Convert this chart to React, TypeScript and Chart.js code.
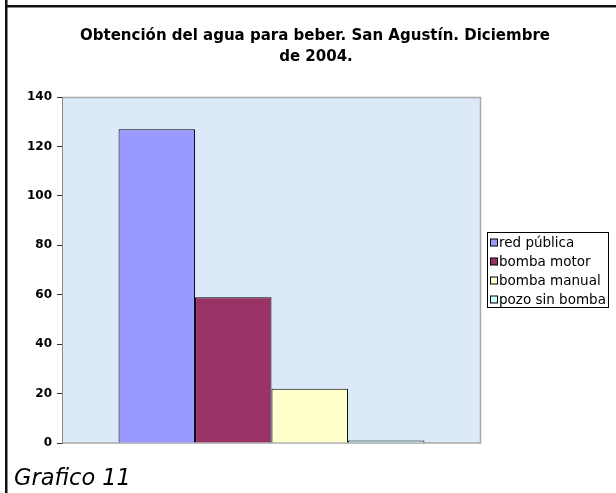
import React, { useEffect, useRef } from "react";
import { Chart, registerables } from "chart.js";

Chart.register(...registerables);

const categories = [""];
const seriesNames = ["red pública", "bomba motor", "bomba manual", "pozo sin bomba"];
const redPublica = [127];
const bombaMotor = [59];
const bombaManual = [22];
const pozoSinBomba = [1];
const seriesColors = ["#9999FF", "#993366", "#FFFFCC", "#CCFFFF"];
const yTicks = [0, 20, 40, 60, 80, 100, 120, 140];
const titleLines = ["Obtención del agua para beber. San Agustín. Diciembre", "de 2004."];
const captionText = "Grafico 11";

const decor = {
  id: "decor",
  beforeDraw(chart: any) {
    const { ctx, chartArea: a } = chart;
    ctx.save();
    ctx.fillStyle = "#ffffff";
    ctx.fillRect(0, 0, chart.width, chart.height);
    ctx.fillStyle = "#DCE9F8";
    ctx.fillRect(a.left, a.top, a.right - a.left, a.bottom - a.top);
    ctx.strokeStyle = "#A8A8A8";
    ctx.lineWidth = 1.5;
    ctx.beginPath();
    ctx.moveTo(a.left, a.top + 0.5);
    ctx.lineTo(a.right - 0.5, a.top + 0.5);
    ctx.lineTo(a.right - 0.5, a.bottom);
    ctx.lineTo(a.left, a.bottom);
    ctx.stroke();
    // outer frame lines
    ctx.fillStyle = "#111111";
    ctx.fillRect(5, 0, 2.5, chart.height);
    ctx.fillRect(5, 5, chart.width - 5, 2.5);
    ctx.restore();
  },
  afterDraw(chart: any) {
    const { ctx } = chart;
    ctx.save();
    // title
    ctx.fillStyle = "#000";
    ctx.font = "bold 15px 'DejaVu Sans'";
    ctx.textAlign = "center";
    ctx.textBaseline = "alphabetic";
    ctx.fillText(titleLines[0], 315, 40);
    ctx.fillText(titleLines[1], 316, 61);
    // legend
    const bx = 487.5, by = 232.5, bw = 121, bh = 75;
    ctx.fillStyle = "#fff";
    ctx.fillRect(bx, by, bw, bh);
    ctx.strokeStyle = "#000";
    ctx.lineWidth = 1;
    ctx.strokeRect(bx, by, bw, bh);
    ctx.font = "13.5px 'DejaVu Sans'";
    ctx.textAlign = "left";
    chart.data.datasets.forEach((ds: any, i: number) => {
      const base = 246.5 + 19 * i;
      ctx.fillStyle = ds.backgroundColor;
      ctx.fillRect(490.5, base - 7.5, 7, 7);
      ctx.strokeStyle = "#000";
      ctx.strokeRect(490.5, base - 7.5, 7, 7);
      ctx.fillStyle = "#000";
      ctx.fillText(ds.label, 499, base);
    });
    // caption
    ctx.font = "italic 22.5px 'DejaVu Sans'";
    ctx.fillStyle = "#000";
    ctx.fillText(captionText, 14, 485);
    ctx.restore();
  },
};

export default function App() {
  const ref = useRef<HTMLCanvasElement | null>(null);
  useEffect(() => {
    if (!ref.current) return;
    const values = [redPublica, bombaMotor, bombaManual, pozoSinBomba];
    const chart = new Chart(ref.current, {
      type: "bar",
      data: {
        labels: categories,
        datasets: seriesNames.map((name, i) => ({
          label: name,
          data: values[i],
          backgroundColor: seriesColors[i],
          borderColor: "#000000",
          borderWidth: 1,
          barPercentage: 1,
          categoryPercentage: 0.73,
        })),
      },
      options: {
        responsive: false,
        animation: false,
        layout: { padding: { left: 0, top: 97, right: 135, bottom: 50 } },
        plugins: {
          legend: { display: false },
          title: { display: false },
          tooltip: { enabled: false },
        },
        scales: {
          x: { display: false, offset: true },
          y: {
            min: 0,
            max: 140,
            afterBuildTicks: (s: any) => {
              s.ticks = yTicks.map((v) => ({ value: v }));
            },
            afterFit: (s: any) => {
              s.width = 62;
            },
            grid: {
              drawOnChartArea: false,
              drawTicks: true,
              tickLength: 5,
              color: "#333",
            },
            border: { display: true, color: "#8a8a8a", width: 1 },
            ticks: {
              padding: 5,
              color: "#000",
              font: { family: "'DejaVu Sans'", size: 12, weight: "bold" },
            },
          },
        },
      },
      plugins: [decor],
    });
    return () => chart.destroy();
  }, []);
  return (
    <div style={{ position: "fixed", left: 0, top: 0, width: 616, height: 493, background: "#fff" }}>
      <canvas ref={ref} width={616} height={493} style={{ display: "block" }} />
    </div>
  );
}
